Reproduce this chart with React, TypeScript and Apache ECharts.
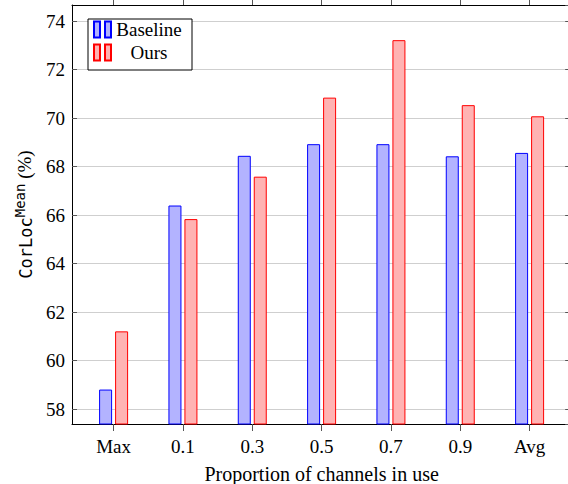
import React, { useEffect, useRef } from "react";
import * as echarts from "echarts";

const categories = ["Max", "0.1", "0.3", "0.5", "0.7", "0.9", "Avg"];
const baselineValues = [58.81, 66.4, 68.45, 68.93, 68.93, 68.43, 68.57];
const oursValues = [61.21, 65.84, 67.59, 70.85, 73.22, 70.54, 70.08];
const seriesNames = ["Baseline", "Ours"];
const xLabel = "Proportion of channels in use";

const SERIF = "Liberation Serif";
const MONO = "DejaVu Sans Mono";

export default function App() {
  const ref = useRef<HTMLDivElement>(null);
  useEffect(() => {
    if (!ref.current) return;
    const chart = echarts.init(ref.current, undefined, { renderer: "svg" });
    const idx = categories.map((_, i) => i);
    const yMin = 57.39;
    const yMax = 74.67;
    const option: any = {
      animation: false,
      backgroundColor: "#fff",
      grid: { left: 72, top: 5, width: 499.2, height: 419, outerBoundsMode: "none", containLabel: false },
      legend: {
        left: 88,
        top: 19,
        orient: "vertical",
        padding: [1, 10, 8, 5],
        itemGap: 4,
        itemWidth: 17,
        itemHeight: 16,
        borderColor: "#000",
        borderWidth: 1,
        borderRadius: 0,
        backgroundColor: "#fff",
        icon: "path://M0,0h6v16h-6zM11,0h6v16h-6z",
        data: seriesNames,
        formatter: (name: string) => `{t|${name}}`,
        textStyle: {
          fontFamily: SERIF,
          fontSize: 19,
          rich: {
            t: {
              width: 66,
              align: "center",
              fontFamily: SERIF,
              fontSize: 19,
              lineHeight: 20,
              color: "#000",
            },
          },
        },
      },
      xAxis: [
        {
          type: "value",
          position: "bottom",
          min: -0.6,
          max: 6.6,
          name: xLabel,
          nameLocation: "middle",
          nameGap: 39,
          nameTextStyle: { fontFamily: SERIF, fontSize: 20, color: "#000", lineHeight: 22 },
          axisLine: { show: true, onZero: false, lineStyle: { color: "#000", width: 1 } },
          axisTick: {
            show: true,
            inside: false,
            length: 7,
            customValues: idx,
            lineStyle: { color: "#555", width: 1 },
          },
          axisLabel: {
            customValues: idx,
            margin: 13,
            fontFamily: SERIF,
            fontSize: 19,
            color: "#000",
            formatter: (v: number) => categories[Math.round(v)] ?? "",
          },
          splitLine: { show: false },
        },
        {
          type: "value",
          position: "top",
          min: -0.6,
          max: 6.6,
          axisLine: { show: true, onZero: false, lineStyle: { color: "#000", width: 1 } },
          axisTick: {
            show: true,
            inside: false,
            length: 5,
            customValues: idx,
            lineStyle: { color: "#555", width: 1 },
          },
          axisLabel: { show: false },
          splitLine: { show: false },
        },
      ],
      yAxis: [
        {
          type: "value",
          position: "left",
          min: yMin,
          max: yMax,
          splitNumber: 8,
          minInterval: 2,
          maxInterval: 2,
          name: "{a|CorLoc}{b|Mean}{c| (%)}",
          nameLocation: "middle",
          nameGap: 38,
          nameRotate: 90,
          nameTextStyle: {
            fontFamily: MONO,
            fontSize: 17,
            color: "#000",
            rich: {
              a: { fontFamily: MONO, fontSize: 17, color: "#000", verticalAlign: "bottom", lineHeight: 26 },
              b: {
                fontFamily: MONO,
                fontSize: 14,
                color: "#000",
                verticalAlign: "bottom",
                lineHeight: 26,
                padding: [0, 0, 7, 0],
              },
              c: { fontFamily: SERIF, fontSize: 19, color: "#000", verticalAlign: "bottom", lineHeight: 26 },
            },
          },
          axisLine: { show: true, onZero: false, lineStyle: { color: "#000", width: 1 } },
          axisTick: { show: true, inside: true, length: 5, lineStyle: { color: "#555", width: 1 } },
          axisLabel: {
            margin: 7,
            fontFamily: SERIF,
            fontSize: 19,
            color: "#000",
            showMinLabel: false,
            showMaxLabel: false,
          },
          splitLine: { show: true, lineStyle: { color: "#cfcfcf", width: 1 } },
        },
        {
          type: "value",
          position: "right",
          min: yMin,
          max: yMax,
          splitNumber: 8,
          minInterval: 2,
          maxInterval: 2,
          axisLine: { show: true, onZero: false, lineStyle: { color: "#000", width: 1 } },
          axisTick: { show: true, inside: true, length: 6, lineStyle: { color: "#555", width: 1 } },
          axisLabel: { show: false },
          splitLine: { show: false },
        },
      ],
      series: [
        {
          name: seriesNames[0],
          type: "bar",
          xAxisIndex: 0,
          yAxisIndex: 0,
          barWidth: 13,
          barGap: "23%",
          data: baselineValues.map((v, i) => [i, v]),
          itemStyle: { color: "#b3b3ff", borderColor: "#0000ff", borderWidth: 1 },
        },
        {
          name: seriesNames[1],
          type: "bar",
          xAxisIndex: 0,
          yAxisIndex: 0,
          barWidth: 13,
          barGap: "23%",
          data: oursValues.map((v, i) => [i, v]),
          itemStyle: { color: "#ffb3b3", borderColor: "#ff0000", borderWidth: 1 },
        },
      ],
    };
    chart.setOption(option);
    return () => chart.dispose();
  }, []);
  return (
    <div
      ref={ref}
      style={{ position: "fixed", left: 0, top: 0, width: 568, height: 484 }}
    />
  );
}
